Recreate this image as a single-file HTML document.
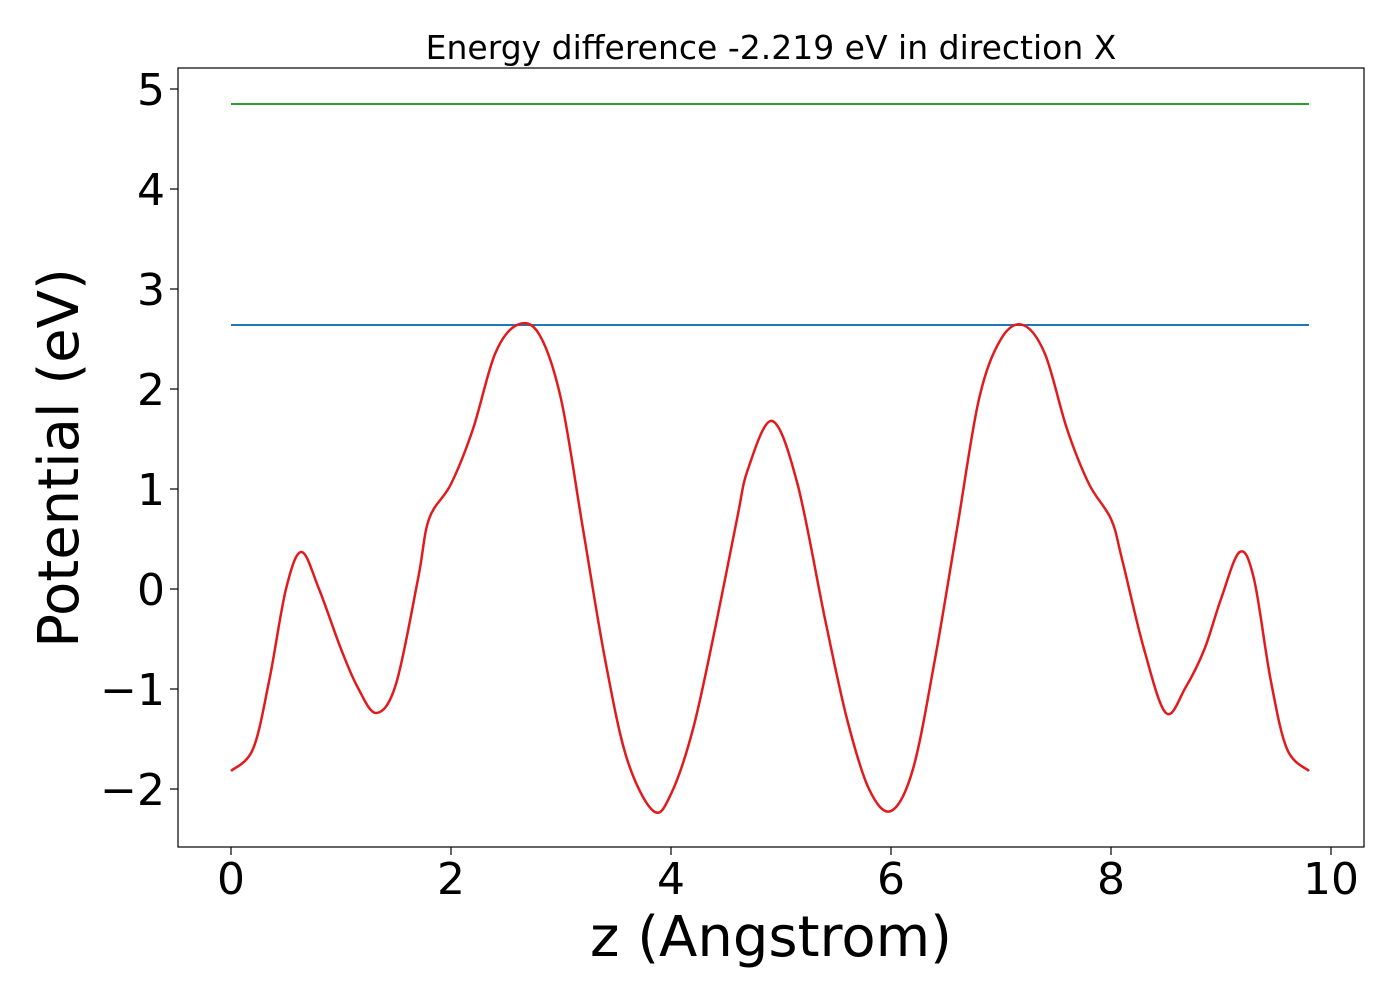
<!DOCTYPE html>
<html><head><meta charset="utf-8"><style>
body{margin:0;background:#fff;}
svg text{font-family:"DejaVu Sans","Liberation Sans",sans-serif;fill:#000;}
</style></head><body>
<svg width="1400" height="1000" id="chart">
<text x="771" y="59" font-size="33" text-anchor="middle">Energy difference -2.219 eV in direction X</text>
<text x="771" y="956" font-size="56" text-anchor="middle">z (Angstrom)</text>
<text transform="translate(78,458) rotate(-90)" font-size="56" text-anchor="middle">Potential (eV)</text>
<g id="ticks"></g>
<g id="series"></g>
<rect x="178" y="68" width="1186" height="779" fill="none" stroke="#000" stroke-width="1.2"/>
</svg>
<script>
const xTicks=[0,2,4,6,8,10];
const yTicks=[-2,-1,0,1,2,3,4,5];
const zVals=[0,0.2,0.35,0.5,0.64,0.8,1.0,1.15,1.32,1.5,1.7,1.8,2.0,2.2,2.4,2.6,2.8,3.0,3.2,3.4,3.6,3.84,4.0,4.2,4.4,4.6,4.7,4.92,5.15,5.4,5.6,5.8,6.0,6.2,6.4,6.6,6.8,7.0,7.2,7.4,7.6,7.8,8.0,8.1,8.3,8.5,8.68,8.85,9.0,9.17,9.3,9.45,9.6,9.8];
const potVals=[-1.82,-1.6,-0.9,0,0.37,0,-0.6,-0.98,-1.24,-0.95,0.1,0.7,1.05,1.6,2.35,2.64,2.55,1.9,0.6,-0.7,-1.7,-2.22,-2.05,-1.4,-0.4,0.7,1.2,1.68,1.05,-0.3,-1.3,-2.0,-2.22,-1.8,-0.7,0.6,1.9,2.5,2.64,2.35,1.6,1.05,0.7,0.3,-0.6,-1.24,-0.98,-0.6,-0.1,0.37,0.1,-0.9,-1.6,-1.82];
const maxLevel=2.64;
const topLevel=4.85;
const xRange=[0,9.8];
const sx=v=>231+v*110;
const sy=v=>589-v*100;
const NS="http://www.w3.org/2000/svg";
const tg=document.getElementById('ticks');
function mk(tag,attrs,parent){const e=document.createElementNS(NS,tag);for(const k in attrs)e.setAttribute(k,attrs[k]);parent.appendChild(e);return e;}
xTicks.forEach(t=>{
 const l=mk('line',{x1:sx(t),x2:sx(t),y1:847,y2:855,stroke:'#000','stroke-width':1.2},tg);
 
 
 const tx=mk('text',{x:sx(t),y:894,'font-size':44,'text-anchor':'middle'},tg);
 tx.textContent=String(t);
 
 
});
yTicks.forEach(t=>{
 const l=mk('line',{x1:170,x2:178,y1:sy(t),y2:sy(t),stroke:'#000','stroke-width':1.2},tg);
 
 
 const tx=mk('text',{x:165,y:sy(t)+16,'font-size':44,'text-anchor':'end'},tg);
 tx.textContent=t<0?'\u2212'+Math.abs(t):String(t);
 
 
});
const sg=document.getElementById('series');
const g1=mk('line',{x1:sx(xRange[0]),x2:sx(xRange[1]),y1:sy(topLevel),y2:sy(topLevel),stroke:'#2ca02c','stroke-width':2},sg);


const b1=mk('line',{x1:sx(xRange[0]),x2:sx(xRange[1]),y1:sy(maxLevel),y2:sy(maxLevel),stroke:'#1f77b4','stroke-width':2},sg);


const P=zVals.map((z,i)=>[sx(z),sy(potVals[i])]);
let d='M'+P[0][0]+','+P[0][1];
for(let i=0;i<P.length-1;i++){
 const p0=P[Math.max(0,i-1)],p1=P[i],p2=P[i+1],p3=P[Math.min(P.length-1,i+2)];
 const c1=[p1[0]+(p2[0]-p0[0])/6,p1[1]+(p2[1]-p0[1])/6];
 const c2=[p2[0]-(p3[0]-p1[0])/6,p2[1]-(p3[1]-p1[1])/6];
 d+=` C${c1[0]},${c1[1]} ${c2[0]},${c2[1]} ${p2[0]},${p2[1]}`;
}
const r=mk('path',{d:d,fill:'none',stroke:'#e31a1c','stroke-width':2.5},sg);


</script>
</body></html>
